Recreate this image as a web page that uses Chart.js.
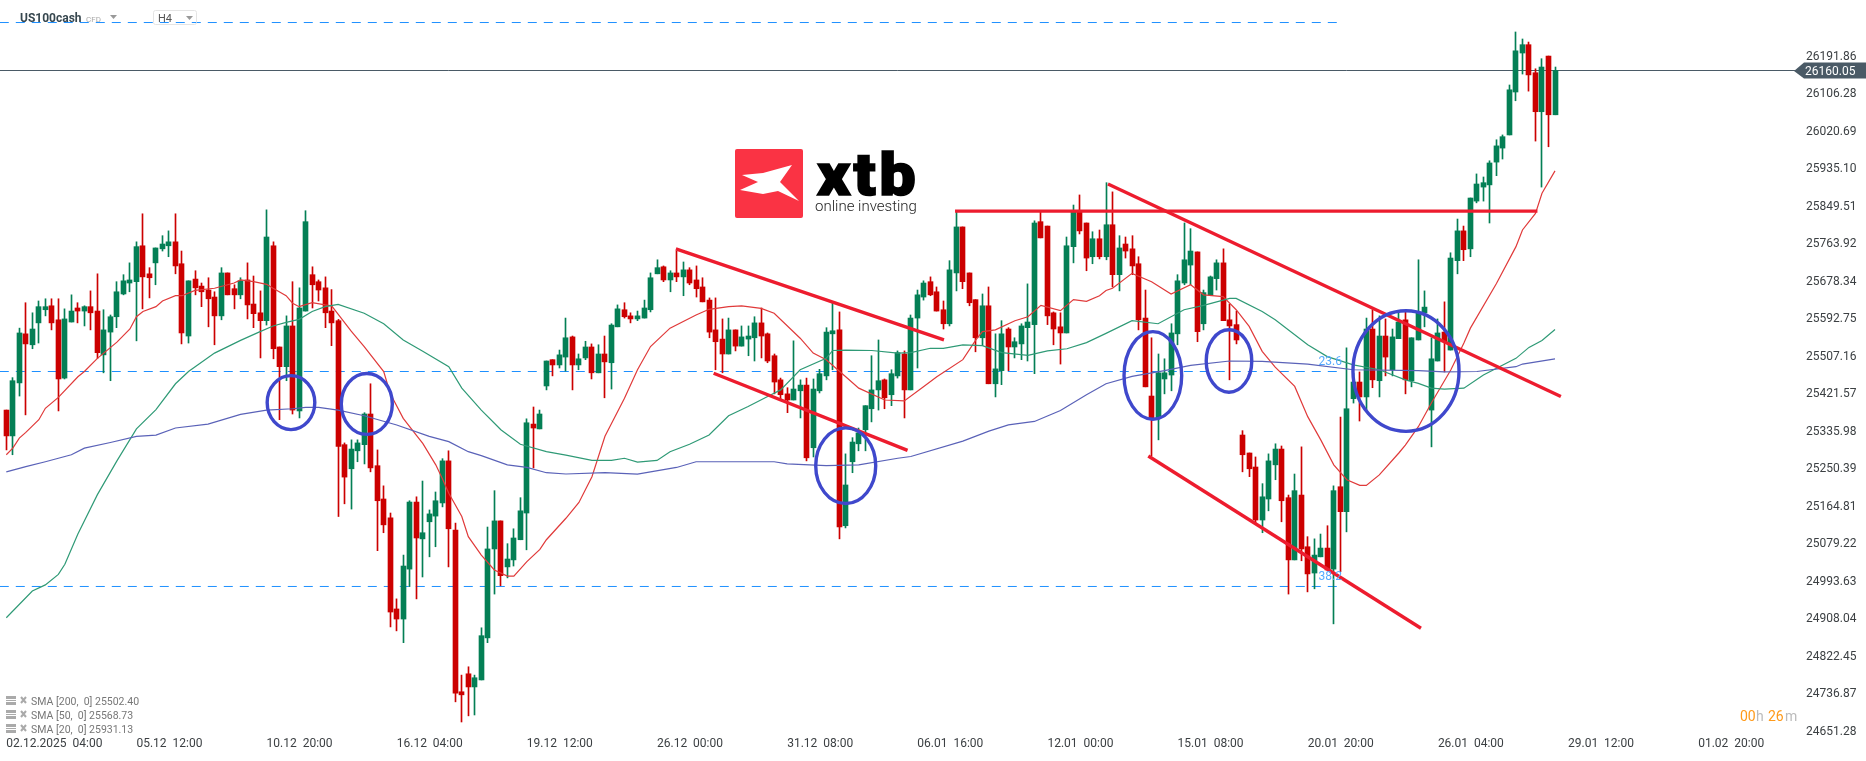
<!DOCTYPE html>
<html>
<head>
<meta charset="utf-8">
<title>US100cash H4</title>
<script src="https://cdn.jsdelivr.net/npm/chart.js@4/dist/chart.umd.min.js"></script>
<style>
  html, body { margin: 0; padding: 0; background: #ffffff; overflow: hidden; }
  canvas { display: block; }
</style>
</head>
<body>
<canvas id="chart" width="1866" height="761"></canvas>
<script>
// Candles (one entry per H4 bar)
const opens = [
  25385,25326,25447,25559,25534,25584,25614,25623,25591,25458,
  25586,25618,25611,25621,25611,25511,25563,25598,25650,25675,
  25678,25760,25696,25721,25753,25760,25769,25719,25554,25684,
  25668,25659,25643,25600,25698,25662,25648,25682,25627,25607,
  25589,25760,25529,25484,25577,25383,25611,25694,25678,25664,
  25611,25589,25306,25251,25292,25306,25376,25258,25182,25139,
  24931,24908,25022,25175,25091,25130,25143,25173,25269,25111,
  24742,24783,24753,24769,24865,25068,25132,25027,25043,25089,
  25150,25353,25342,25440,25500,25488,25506,25552,25488,25504,
  25529,25470,25513,25493,25575,25614,25600,25593,25595,25614,
  25696,25712,25682,25698,25689,25705,25682,25666,25636,25568,
  25547,25513,25568,25531,25547,25550,25584,25559,25509,25454,
  25422,25408,25429,25442,25299,25429,25463,25559,25568,25121,
  25267,25308,25340,25388,25431,25454,25420,25463,25513,25431,
  25595,25643,25678,25655,25614,25582,25698,25803,25698,25637,
  25550,25623,25445,25475,25570,25529,25536,25573,25580,25815,
  25805,25607,25575,25561,25758,25837,25812,25735,25776,25735,
  25808,25694,25764,25753,25719,25595,25417,25367,25456,25465,
  25559,25675,25716,25746,25582,25648,25685,25721,25591,25580,
  25328,25287,25255,25134,25182,25260,25296,25185,25043,25191,
  25073,25013,25050,25070,25022,25210,25153,25411,25449,25415,
  25570,25452,25554,25477,25548,25591,25452,25545,25607,25385,
  25497,25563,25522,25726,25794,25753,25862,25894,25899,25951,
  25983,26013,26111,26200,26219,26155,26066,26193,26059
];
const highs = [
  25385,25459,25572,25630,25607,25634,25639,25639,25639,25616,
  25648,25630,25623,25657,25696,25614,25602,25678,25694,25721,
  25769,25833,25710,25755,25783,25794,25833,25748,25680,25703,
  25675,25687,25655,25710,25698,25671,25687,25721,25691,25657,
  25842,25769,25529,25600,25678,25664,25840,25712,25682,25689,
  25660,25592,25310,25317,25317,25379,25445,25294,25212,25150,
  24954,25054,25178,25187,25223,25157,25198,25274,25292,25127,
  24780,24799,24780,24888,25118,25201,25132,25080,25114,25185,
  25365,25392,25385,25497,25500,25522,25595,25554,25513,25542,
  25536,25534,25554,25582,25625,25630,25607,25611,25636,25698,
  25728,25714,25703,25748,25723,25710,25714,25687,25641,25641,
  25593,25595,25568,25577,25577,25598,25618,25561,25513,25458,
  25436,25543,25454,25458,25456,25478,25573,25632,25609,25285,
  25322,25344,25395,25509,25545,25456,25477,25520,25520,25602,
  25659,25680,25689,25666,25634,25726,25837,25803,25698,25637,
  25650,25666,25559,25589,25573,25550,25582,25673,25817,25837,
  25805,25609,25607,25780,25853,25876,25812,25792,25796,25904,
  25883,25783,25780,25783,25735,25659,25550,25513,25502,25582,
  25694,25812,25799,25746,25659,25691,25728,25753,25627,25611,
  25338,25287,25278,25217,25285,25308,25303,25191,25239,25301,
  25096,25091,25102,25121,25212,25369,25527,25469,25472,25595,
  25614,25600,25593,25570,25611,25609,25550,25728,25657,25550,
  25593,25632,25744,25821,25805,25869,25924,25917,25954,26002,
  26013,26127,26248,26232,26225,26164,26187,26193,26168
];
const lows = [
  25294,25283,25417,25374,25525,25538,25600,25568,25383,25456,
  25586,25584,25577,25568,25503,25470,25452,25573,25648,25655,
  25543,25616,25641,25671,25748,25735,25696,25536,25538,25648,
  25621,25575,25534,25591,25648,25616,25639,25593,25573,25504,
  25579,25502,25363,25452,25376,25367,25611,25618,25634,25573,
  25532,25142,25171,25159,25267,25262,25244,25064,25105,24890,
  24881,24854,24982,24954,25004,25050,25073,25164,25027,24719,
  24673,24687,24689,24769,24854,24965,24984,25002,25029,25089,
  25066,25253,25342,25431,25463,25481,25474,25431,25477,25500,
  25456,25470,25413,25433,25575,25595,25584,25589,25595,25609,
  25696,25678,25655,25678,25646,25671,25643,25632,25550,25477,
  25470,25513,25520,25531,25509,25497,25504,25493,25422,25410,
  25379,25408,25367,25269,25278,25424,25454,25477,25091,25116,
  25242,25292,25292,25358,25385,25388,25395,25458,25367,25431,
  25481,25636,25646,25611,25570,25577,25657,25662,25623,25518,
  25532,25445,25415,25443,25475,25504,25500,25497,25468,25778,
  25580,25534,25490,25561,25721,25787,25703,25719,25730,25728,
  25666,25657,25732,25694,25568,25438,25280,25317,25422,25429,
  25534,25671,25671,25541,25568,25648,25659,25589,25454,25536,
  25244,25233,25125,25105,25155,25226,25130,24965,25043,25041,
  24970,24977,25050,25020,24897,25016,25107,25401,25360,25385,
  25436,25415,25463,25463,25548,25422,25438,25545,25575,25301,
  25497,25472,25522,25696,25726,25735,25858,25862,25812,25920,
  25958,26013,26091,26152,26113,25999,25894,25986,26059
];
const closes = [
  25326,25452,25561,25536,25570,25621,25621,25584,25456,25593,
  25611,25611,25621,25607,25516,25568,25598,25655,25680,25682,
  25758,25689,25687,25755,25764,25769,25714,25561,25680,25664,
  25655,25639,25600,25698,25648,25648,25680,25625,25605,25589,
  25780,25525,25484,25577,25385,25618,25815,25671,25659,25607,
  25584,25302,25232,25296,25310,25376,25253,25178,25123,24924,
  24908,25029,25175,25093,25105,25148,25178,25269,25114,24739,
  24735,24753,24774,24870,25068,25132,25007,25045,25093,25155,
  25356,25344,25376,25497,25488,25511,25550,25488,25502,25529,
  25470,25513,25495,25579,25616,25598,25593,25600,25618,25687,
  25710,25682,25698,25689,25705,25675,25662,25632,25563,25541,
  25513,25568,25531,25552,25554,25584,25554,25497,25449,25420,
  25408,25433,25442,25276,25433,25468,25563,25566,25118,25214,
  25312,25333,25395,25431,25452,25413,25468,25516,25431,25595,
  25648,25675,25648,25611,25582,25705,25803,25678,25630,25550,
  25623,25445,25479,25559,25529,25541,25577,25586,25812,25778,
  25600,25570,25561,25760,25837,25794,25732,25776,25735,25808,
  25694,25755,25748,25714,25591,25438,25367,25470,25470,25561,
  25680,25728,25748,25564,25653,25689,25721,25589,25577,25545,
  25283,25251,25134,25187,25269,25296,25178,25043,25201,25068,
  25011,25054,25070,25020,25201,25153,25388,25449,25415,25570,
  25454,25554,25506,25552,25586,25454,25550,25607,25620,25502,
  25561,25541,25732,25794,25751,25869,25901,25904,25949,25988,
  26009,26116,26205,26219,26150,26066,26168,26059,26160.05
];

// Moving averages, read at the bars where the curve changes direction
const sma20Bars = [0,1,2,3,5,6,8,11,12,14,17,19,20,21,23,24,26,27,29,32,35,36,38,40,41,43,44,45,47,49,50,53,55,58,59,61,63,64,66,67,68,70,71,73,75,77,78,80,82,83,86,88,90,92,95,97,99,102,106,108,111,113,116,118,122,124,126,129,131,135,138,141,143,147,149,150,152,155,157,159,162,164,166,168,169,170,173,176,179,182,184,187,189,191,193,195,198,200,202,204,206,208,209,211,214,215,217,219,222,224,225,229,232,233,235,236,238];
const sma20 = [25283,25298,25321,25334,25363,25389,25414,25461,25473,25503,25540,25570,25598,25610,25621,25634,25646,25646,25658,25663,25675,25682,25678,25672,25663,25646,25629,25621,25630,25625,25623,25565,25530,25473,25423,25366,25328,25309,25260,25229,25195,25142,25096,25054,25020,25006,25006,25039,25067,25089,25138,25174,25233,25325,25412,25477,25530,25572,25602,25615,25621,25623,25617,25606,25549,25515,25500,25461,25435,25408,25406,25439,25461,25500,25545,25564,25568,25589,25598,25624,25612,25637,25633,25646,25658,25663,25697,25678,25650,25671,25648,25644,25614,25576,25519,25483,25439,25370,25317,25260,25226,25213,25213,25237,25287,25305,25347,25401,25477,25538,25572,25674,25758,25796,25834,25880,25931];

const sma50Bars = [0,4,6,8,9,11,14,17,20,23,26,28,32,36,39,41,43,45,47,49,51,55,58,61,64,68,70,73,76,79,83,86,90,93,95,97,100,102,105,108,111,114,117,119,122,126,127,129,133,137,139,142,144,147,150,153,157,160,163,166,169,173,177,181,184,188,189,193,195,200,203,207,211,215,217,219,221,224,227,232,234,236,238];
const sma50 = [24911,24972,24986,25010,25033,25102,25192,25269,25342,25386,25445,25473,25515,25544,25564,25577,25585,25592,25610,25621,25626,25606,25582,25545,25519,25484,25435,25385,25340,25307,25290,25282,25270,25270,25275,25266,25270,25290,25307,25328,25372,25393,25416,25431,25477,25503,25521,25522,25521,25515,25516,25526,25526,25534,25532,25516,25510,25520,25525,25539,25560,25589,25582,25614,25624,25640,25640,25610,25591,25534,25507,25488,25477,25454,25446,25435,25433,25435,25465,25503,25528,25544,25569];

const sma200Bars = [0,3,6,10,12,16,20,23,26,31,36,40,44,46,48,51,55,60,65,68,71,73,77,80,83,86,92,97,103,106,118,120,126,131,137,139,147,151,154,158,162,166,169,173,178,182,188,193,200,207,217,221,226,232,233,238];
const sma200 = [25244,25256,25267,25283,25298,25311,25325,25328,25344,25353,25375,25385,25388,25391,25391,25385,25372,25351,25325,25313,25290,25281,25260,25254,25242,25239,25242,25239,25254,25267,25267,25262,25258,25260,25275,25279,25314,25337,25351,25359,25384,25420,25445,25462,25475,25487,25497,25496,25490,25477,25475,25472,25473,25484,25490,25502];

// Price axis and time axis
const priceTicks = [26191.86,26106.28,26020.69,25935.10,25849.51,25763.92,25678.34,25592.75,25507.16,25421.57,25335.98,25250.39,25164.81,25079.22,24993.63,24908.04,24822.45,24736.87,24651.28];
const timeLabels = ["02.12.2025  04:00","05.12  12:00","10.12  20:00","16.12  04:00","19.12  12:00","26.12  00:00","31.12  08:00","06.01  16:00","12.01  00:00","15.01  08:00","20.01  20:00","26.01  04:00","29.01  12:00","01.02  20:00"];
const timeTickBars = [0,20,40,60,80,100,120,140,160,180,200,220,240,260];

// Levels and hand drawn analysis, in bars and price
const lastPrice = 26160.05;
const levelPrices = [26269.6, 25473, 24982.3];
const levelEndBar = 204.8;
const levelNames = ["23.6", "38.2"];
const levelNamePrices = [25494, 25003];
const trendFromBar = [102.9, 108.7, 145.8, 169.3, 175.5];
const trendFromPrice = [25753, 25469, 25839, 25901, 25280];
const trendToBar = [144.1, 138.5, 235.3, 238.9, 217.4];
const trendToPrice = [25545, 25293, 25839, 25416, 24887];
const circleBar = [43.75, 55.4, 129, 176.2, 187.9, 215.1];
const circlePrice = [25402, 25399, 25258, 25464, 25497, 25474];
const circleBarRadius = [3.66, 3.92, 4.61, 4.43, 3.5, 8.15];
const circlePriceRadius = [61.6, 69.6, 86.3, 100, 71.4, 137.6];

const legendRows = ["SMA [200,  0] 25502.40", "SMA [50,  0] 25568.73", "SMA [20,  0] 25931.13"];

const RED = "#cc0000";
const GREEN = "#047f55";
const FONT = "Roboto, sans-serif";

function candleColors() {
  return closes.map((c, i) => (c >= opens[i] ? GREEN : RED));
}

function curve(bars, values) {
  return bars.map((b, i) => ({ x: b, y: values[i] }));
}

function lineSet(data, color, width, order, dash) {
  return {
    type: "line",
    data: data,
    borderColor: color,
    borderWidth: width,
    borderDash: dash || [],
    pointRadius: 0,
    tension: 0,
    fill: false,
    order: order,
  };
}

function buildDatasets() {
  const colors = candleColors();
  const sets = [];
  levelPrices.forEach((p) => {
    sets.push(lineSet([{ x: -1, y: p }, { x: levelEndBar, y: p }], "#1e90ff", 1, 6, [9, 7]));
  });
  sets.push(lineSet([{ x: -1, y: lastPrice }, { x: 275, y: lastPrice }], "#4a5a66", 1, 5));
  sets.push({
    type: "bar",
    data: lows.map((l, i) => ({ x: i, y: [l, highs[i]] })),
    backgroundColor: colors,
    barThickness: 1,
    grouped: false,
    order: 4,
  });
  sets.push({
    type: "bar",
    data: opens.map((o, i) => ({ x: i, y: [o, closes[i]] })),
    backgroundColor: colors,
    barThickness: 5,
    grouped: false,
    order: 3,
  });
  sets.push(lineSet(curve(sma200Bars, sma200), "#5a62b8", 1.2, 2));
  sets.push(lineSet(curve(sma50Bars, sma50), "#2f9a76", 1.2, 2));
  sets.push(lineSet(curve(sma20Bars, sma20), "#e03a3a", 1.2, 2));
  trendFromBar.forEach((b, i) => {
    sets.push(lineSet([{ x: b, y: trendFromPrice[i] }, { x: trendToBar[i], y: trendToPrice[i] }], "#ed1c2e", 3.4, 1));
  });
  return sets;
}

// Keeps candles on whole pixels so bodies and wicks stay crisp
const snapCandles = {
  id: "snapCandles",
  afterDatasetsUpdate(chart) {
    chart.getSortedVisibleDatasetMetas().forEach((meta) => {
      if (meta.type !== "bar") return;
      meta.data.forEach((el) => {
        el.x = Math.round(el.x - 0.5) + 0.5;
      });
    });
  },
};

function drawLogo(ctx) {
  ctx.fillStyle = "#fa3344";
  ctx.beginPath();
  ctx.roundRect(735, 149, 68, 69, 2);
  ctx.fill();
  ctx.fillStyle = "#ffffff";
  const wing = [[742, 175], [763, 173], [792, 165], [780, 182], [799, 201], [778, 191], [763, 194], [740, 190], [758, 182]];
  ctx.beginPath();
  wing.forEach((p, i) => (i ? ctx.lineTo(p[0], p[1]) : ctx.moveTo(p[0], p[1])));
  ctx.closePath();
  ctx.fill();

  // xtb wordmark is heavier and wider than Roboto Black, so stretch and thicken it
  ctx.save();
  ctx.fillStyle = "#000000";
  ctx.strokeStyle = "#000000";
  ctx.lineWidth = 1.6;
  ctx.textAlign = "left";
  ctx.textBaseline = "alphabetic";
  ctx.font = "900 60px " + FONT;
  ctx.letterSpacing = "3px";
  ctx.translate(817, 195);
  ctx.scale(1.08, 1);
  ctx.fillText("xtb", 0, 0);
  ctx.strokeText("xtb", 0, 0);
  ctx.restore();

  ctx.fillStyle = "#222222";
  ctx.textAlign = "left";
  ctx.textBaseline = "alphabetic";
  ctx.font = "300 15px " + FONT;
  ctx.fillText("online investing", 815, 211);
}

function drawHeader(ctx) {
  ctx.textBaseline = "middle";
  ctx.textAlign = "left";
  ctx.fillStyle = "#37474f";
  ctx.font = "700 12px " + FONT;
  ctx.fillText("US100cash", 20, 19);
  ctx.fillStyle = "#aaaaaa";
  ctx.font = "8px " + FONT;
  ctx.fillText("CFD", 86, 20);
  triangle(ctx, 110, 15, 7, 4);
  ctx.strokeStyle = "#e4e4e4";
  ctx.lineWidth = 1;
  ctx.beginPath();
  ctx.roundRect(153.5, 10.5, 43, 14, 2);
  ctx.stroke();
  ctx.fillStyle = "#555555";
  ctx.font = "11px " + FONT;
  ctx.fillText("H4", 158, 19);
  triangle(ctx, 186, 16, 7, 4);
}

function triangle(ctx, x, y, w, h) {
  ctx.fillStyle = "#999999";
  ctx.beginPath();
  ctx.moveTo(x, y);
  ctx.lineTo(x + w, y);
  ctx.lineTo(x + w / 2, y + h);
  ctx.closePath();
  ctx.fill();
}

function drawLegend(ctx) {
  ctx.textAlign = "left";
  ctx.textBaseline = "middle";
  legendRows.forEach((row, i) => {
    const y = 701 + i * 14;
    ctx.fillStyle = "#aaaaaa";
    ctx.fillRect(6, y - 5, 10, 3);
    ctx.fillRect(6, y - 1, 10, 1);
    ctx.fillRect(6, y + 1, 10, 3);
    ctx.strokeStyle = "#aaaaaa";
    ctx.lineWidth = 2;
    ctx.beginPath();
    ctx.moveTo(21, y - 4);
    ctx.lineTo(26, y + 2);
    ctx.moveTo(26, y - 4);
    ctx.lineTo(21, y + 2);
    ctx.stroke();
    ctx.fillStyle = "#777777";
    ctx.font = "10.5px " + FONT;
    ctx.fillText(row, 31, y + 1);
  });
}

function drawTimer(ctx) {
  ctx.textAlign = "left";
  ctx.textBaseline = "middle";
  ctx.font = "14px " + FONT;
  const parts = [["00", 1740, "#ff9a1a"], ["h", 1756, "#bbbbbb"], ["26", 1768, "#ff9a1a"], ["m", 1785, "#bbbbbb"]];
  parts.forEach((p) => {
    ctx.fillStyle = p[2];
    ctx.fillText(p[0], p[1], 717);
  });
}

function drawPriceTag(ctx, yScale) {
  const y = yScale.getPixelForValue(lastPrice);
  ctx.fillStyle = "#4a5a66";
  ctx.beginPath();
  ctx.moveTo(1794, y + 0.5);
  ctx.lineTo(1804, y - 8);
  ctx.lineTo(1866, y - 8);
  ctx.lineTo(1866, y + 8);
  ctx.lineTo(1804, y + 8);
  ctx.closePath();
  ctx.fill();
  ctx.fillStyle = "#ffffff";
  ctx.font = "12px " + FONT;
  ctx.textAlign = "left";
  ctx.textBaseline = "middle";
  ctx.fillText(lastPrice.toFixed(2), 1805, y + 1);
}

// Everything the chart library has no element for
const overlay = {
  id: "overlay",
  afterDatasetsDraw(chart) {
    const ctx = chart.ctx;
    const xs = chart.scales.x;
    const ys = chart.scales.y;
    ctx.save();
    ctx.strokeStyle = "#3f48cc";
    ctx.lineWidth = 3.4;
    circleBar.forEach((b, i) => {
      const cx = xs.getPixelForValue(b);
      const cy = ys.getPixelForValue(circlePrice[i]);
      const rx = xs.getPixelForValue(b + circleBarRadius[i]) - cx;
      const ry = ys.getPixelForValue(circlePrice[i] - circlePriceRadius[i]) - cy;
      ctx.beginPath();
      ctx.ellipse(cx, cy, rx, ry, 0, 0, Math.PI * 2);
      ctx.stroke();
    });
    ctx.fillStyle = "#55aaff";
    ctx.font = "12px " + FONT;
    ctx.textAlign = "right";
    ctx.textBaseline = "middle";
    levelNames.forEach((name, i) => {
      ctx.fillText(name, xs.getPixelForValue(levelEndBar) + 3, ys.getPixelForValue(levelNamePrices[i]));
    });
    drawLogo(ctx);
    drawHeader(ctx);
    drawLegend(ctx);
    drawTimer(ctx);
    drawPriceTag(ctx, ys);
    ctx.restore();
  },
};

function renderChart() {
  new Chart("chart", {
    data: { datasets: buildDatasets() },
    plugins: [snapCandles, overlay],
    options: {
      responsive: false,
      animation: false,
      devicePixelRatio: 1,
      layout: { padding: 0 },
      plugins: { legend: { display: false }, title: { display: false }, tooltip: { enabled: false } },
      scales: {
        x: {
          type: "linear",
          offset: false,
          min: -0.968,
          max: 275.65,
          grid: { display: false, drawTicks: false, offset: false },
          border: { display: false },
          afterBuildTicks(scale) {
            scale.ticks = timeTickBars.map((b) => ({ value: b }));
          },
          afterFit(scale) {
            scale.height = 26;
            scale.paddingLeft = 0;
            scale.paddingRight = 0;
          },
          ticks: {
            autoSkip: false,
            maxRotation: 0,
            align: "start",
            padding: 2,
            color: "#3c4043",
            font: { family: "Roboto", size: 12 },
            callback: (v, i) => timeLabels[i],
          },
        },
        y: {
          type: "linear",
          position: "right",
          min: 24643.3,
          max: 26321,
          grid: { display: false, drawTicks: false },
          border: { display: false },
          afterBuildTicks(scale) {
            scale.ticks = priceTicks.map((p) => ({ value: p }));
          },
          afterFit(scale) {
            scale.width = 66;
            scale.paddingTop = 0;
            scale.paddingBottom = 0;
          },
          ticks: {
            autoSkip: false,
            padding: 6,
            color: "#3c4043",
            font: { family: "Roboto", size: 12 },
            callback: (v) => v.toFixed(2),
          },
        },
      },
    },
  });
}

window.onload = function () {
  renderChart();
};
</script>
</body>
</html>
